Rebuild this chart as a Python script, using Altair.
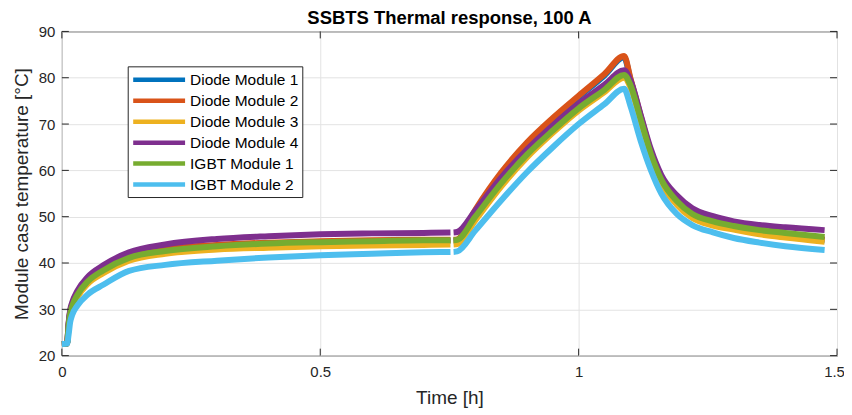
import altair as alt
import pandas as pd

# ---------------- data ----------------
series_names = ["Diode Module 1", "Diode Module 2", "Diode Module 3",
                "Diode Module 4", "IGBT Module 1", "IGBT Module 2"]
series_colors = ["#0072BD", "#D95319", "#EDB120", "#7E2F8E", "#77AC30", "#4DBEEE"]

# time [h]; first segment (steady heating), second segment (overload + cooling)
time_seg1 = [0, 0.010, 0.013, 0.016, 0.02, 0.03, 0.05, 0.08, 0.13, 0.2, 0.3, 0.4,
             0.5, 0.6, 0.7, 0.752]
time_seg2 = [0.758, 0.765, 0.8, 0.85, 0.9, 0.95, 1.0, 1.05, 1.088, 1.1, 1.12, 1.14,
             1.16, 1.19, 1.22, 1.26, 1.3, 1.35, 1.4, 1.476]

diode1_seg1 = [22.5, 22.6, 26.6, 29.3, 31.0, 33.4, 36.4, 38.8, 41.4, 42.8, 43.7, 44.2,
               44.5, 44.7, 44.8, 44.8]
diode1_seg2 = [44.8, 44.9, 51.2, 59.2, 65.7, 71.0, 75.8, 80.5, 84.4, 79.7, 71.5, 63.8,
               58.2, 53.4, 50.5, 48.7, 47.7, 46.6, 45.8, 44.9]

diode2_seg1 = [22.5, 22.6, 26.8, 29.5, 31.2, 33.6, 36.6, 39.0, 41.6, 43.0, 43.9, 44.4,
               44.7, 44.9, 45.0, 45.0]
diode2_seg2 = [45.0, 45.1, 51.5, 59.5, 66.0, 71.3, 76.1, 80.8, 84.7, 80.0, 71.8, 64.0,
               58.4, 53.6, 50.7, 48.9, 47.9, 46.8, 46.0, 45.1]

diode3_seg1 = [22.5, 22.6, 26.0, 28.5, 30.2, 32.6, 35.5, 37.8, 40.5, 42.0, 42.9, 43.3,
               43.6, 43.8, 43.9, 44.0]
diode3_seg2 = [44.0, 44.1, 49.2, 56.5, 62.8, 68.1, 72.9, 76.9, 80.0, 78.0, 70.5, 62.8,
               57.2, 52.6, 49.7, 48.1, 47.2, 46.2, 45.5, 44.6]

diode4_seg1 = [22.5, 22.6, 27.0, 29.8, 31.5, 34.0, 37.0, 39.5, 42.3, 44.0, 45.2, 45.8,
               46.2, 46.4, 46.5, 46.6]
diode4_seg2 = [46.6, 46.7, 51.3, 58.4, 64.5, 69.7, 74.4, 78.5, 81.6, 79.5, 72.0, 64.5,
               59.0, 54.6, 51.8, 50.1, 49.0, 48.2, 47.7, 47.1]

igbt1_seg1 = [22.5, 22.6, 26.4, 29.0, 30.7, 33.1, 36.0, 38.4, 41.1, 42.6, 43.6, 44.2,
              44.5, 44.7, 44.9, 44.9]
igbt1_seg2 = [44.9, 45.0, 50.0, 57.2, 63.4, 68.6, 73.4, 77.4, 80.6, 78.5, 71.0, 63.5,
              58.0, 53.4, 50.6, 49.0, 48.0, 47.1, 46.5, 45.6]

igbt2_seg1 = [22.5, 22.6, 24.5, 27.2, 28.8, 30.8, 33.2, 35.3, 38.3, 39.6, 40.5, 41.2,
              41.7, 42.0, 42.3, 42.4]
igbt2_seg2 = [42.4, 42.5, 47.0, 53.5, 59.6, 65.0, 70.0, 74.3, 77.6, 74.0, 66.4, 60.0,
              55.0, 50.6, 48.2, 46.6, 45.4, 44.4, 43.6, 42.8]

x_ticks = [0, 0.5, 1, 1.5]
y_ticks = [20, 30, 40, 50, 60, 70, 80, 90]

seg1_values = [diode1_seg1, diode2_seg1, diode3_seg1, diode4_seg1, igbt1_seg1, igbt2_seg1]
seg2_values = [diode1_seg2, diode2_seg2, diode3_seg2, diode4_seg2, igbt1_seg2, igbt2_seg2]

rows = []
for name, s1, s2 in zip(series_names, seg1_values, seg2_values):
    for t, v in zip(time_seg1, s1):
        rows.append({"series": name, "seg": 1, "t": t, "temp": v})
    for t, v in zip(time_seg2, s2):
        rows.append({"series": name, "seg": 2, "t": t, "temp": v})
df = pd.DataFrame(rows)

# ---------------- layout ----------------
W, H = 777, 325
X_DOM = [0, 1.5]
Y_DOM = [20, 90]
TICK_PX = 7
tick_dx = (X_DOM[1] - X_DOM[0]) * TICK_PX / W
tick_dy = (Y_DOM[1] - Y_DOM[0]) * TICK_PX / H

tick_rows = []
for xv in x_ticks:
    tick_rows.append({"x": xv, "x2": xv, "y": Y_DOM[0], "y2": Y_DOM[0] + tick_dy})
    tick_rows.append({"x": xv, "x2": xv, "y": Y_DOM[1], "y2": Y_DOM[1] - tick_dy})
for yv in y_ticks:
    tick_rows.append({"x": X_DOM[0], "x2": X_DOM[0] + tick_dx, "y": yv, "y2": yv})
    tick_rows.append({"x": X_DOM[1], "x2": X_DOM[1] - tick_dx, "y": yv, "y2": yv})
tick_df = pd.DataFrame(tick_rows)

FONT = "Liberation Sans"
TXT = "#262626"

x_scale = alt.Scale(domain=X_DOM, nice=False, zero=False)
y_scale = alt.Scale(domain=Y_DOM, nice=False, zero=False)
color_scale = alt.Scale(domain=series_names, range=series_colors)

x_axis = alt.Axis(values=x_ticks, format="~g", title="Time [h]", grid=True,
                  ticks=False, domain=False, labelPadding=9, titlePadding=9,
                  labelFlush=False,
                  labelOffset={"condition": {"test": "datum.value >= 1.5", "value": -3},
                               "value": 0})
y_axis = alt.Axis(values=y_ticks, title="Module case temperature [°C]", grid=True,
                  ticks=False, domain=False, labelPadding=7, titlePadding=7)

legend = alt.Legend(
    title=None, orient="none", legendX=66, legendY=35,
    fillColor="white", strokeColor=TXT, padding=3,
    symbolType="M-1,0H5.5", symbolSize=256, symbolStrokeWidth=4.5,
    labelFontSize=15.5, labelFont=FONT, labelColor="#000000", labelOffset=38.5,
    rowPadding=1,
)

layers = []
for name in series_names:
    layer = alt.Chart(df).transform_filter(
        alt.datum.series == name
    ).mark_line(strokeWidth=6, strokeCap="butt", strokeJoin="round",
                interpolate="monotone").encode(
        x=alt.X("t:Q", scale=x_scale, axis=x_axis),
        y=alt.Y("temp:Q", scale=y_scale, axis=y_axis),
        color=alt.Color("series:N", scale=color_scale, legend=legend),
        detail="seg:N",
    )
    layers.append(layer)

ticks = alt.Chart(tick_df).mark_rule(color=TXT, strokeWidth=1).encode(
    x=alt.X("x:Q", scale=x_scale, axis=x_axis),
    x2="x2:Q",
    y=alt.Y("y:Q", scale=y_scale, axis=y_axis),
    y2="y2:Q",
)

chart = alt.layer(*layers, ticks).properties(
    width=W, height=H,
    title=alt.TitleParams("SSBTS Thermal response, 100 A", fontSize=18.5,
                          fontWeight="bold", font=FONT, color="#000000",
                          anchor="middle", offset=4, dy=7),
    autosize=alt.AutoSizeParams(type="none"),
    padding={"left": 54, "top": 23, "right": 7, "bottom": 52},
).configure_view(
    stroke=TXT, strokeWidth=1,
).configure_axis(
    labelFont=FONT, labelFontSize=15, labelColor=TXT,
    titleFont=FONT, titleFontSize=19, titleFontWeight="normal", titleColor=TXT,
    gridColor="#e3e3e3", gridWidth=1,
)

chart.save("out.html", embed_options={"renderer": "svg", "actions": False})
